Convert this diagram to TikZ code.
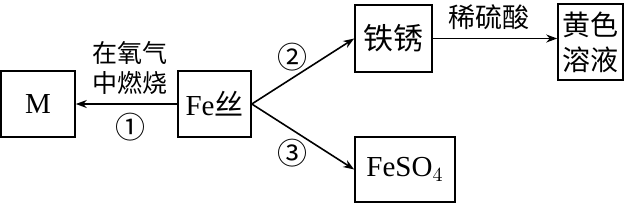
\documentclass[tikz,border=0pt]{standalone}
\usepackage{fontspec}
\setmainfont{Liberation Serif}
\newfontfamily\cjk{Noto Sans CJK SC}
\usetikzlibrary{arrows.meta}
\begin{document}
\begin{tikzpicture}[x=0.5pt,y=-0.5pt,
  box/.style={draw, line width=0.8pt, inner sep=0pt, align=center, font=\fontsize{14.5}{17.5}\selectfont},
  lbl/.style={inner sep=0pt, align=center, font=\cjk\fontsize{12.5}{15}\selectfont},
  num/.style={inner sep=0pt, font=\cjk\fontsize{15}{15}\selectfont},
  conn/.style={line width=0.8pt, -{Stealth[length=5.5pt,width=4pt]}}]
\useasboundingbox (0,0) rectangle (637,205);
\node[box, minimum width=37pt, minimum height=33pt] (M) at (38,104) {M};
\node[box, minimum width=36.5pt, minimum height=33pt] (Fe) at (214.5,104) {Fe{\cjk 丝}};
\node[box, minimum width=38.5pt, minimum height=33.5pt, font=\cjk\fontsize{15}{17.5}\selectfont] (rust) at (393.5,38.5) {铁锈};
\node[box, minimum width=32.5pt, minimum height=38pt, font=\cjk\fontsize{14}{17.5}\selectfont] (yel) at (590.5,42) {黄色\\溶液};
\node[box, minimum width=50pt, minimum height=32.5pt] (fs) at (405,169.5) {FeSO$_4$};
\draw[conn] (Fe.west) -- (M.east);
\draw[conn] (Fe.east) -- (rust.west);
\draw[conn] (Fe.east) -- (fs.west);
\draw[conn] (rust.east) -- (rust.east -| yel.west);
\node[lbl] (t1) at (130,68) {在氧气\\中燃烧};
\node[num] (n1) at (130,127) {①};
\node[num] (n2) at (292,57) {②};
\node[num] (n3) at (292,153) {③};
\node[lbl, font=\cjk\fontsize{13.5}{15}\selectfont] (t2) at (489,17) {稀硫酸};
\end{tikzpicture}
\end{document}
